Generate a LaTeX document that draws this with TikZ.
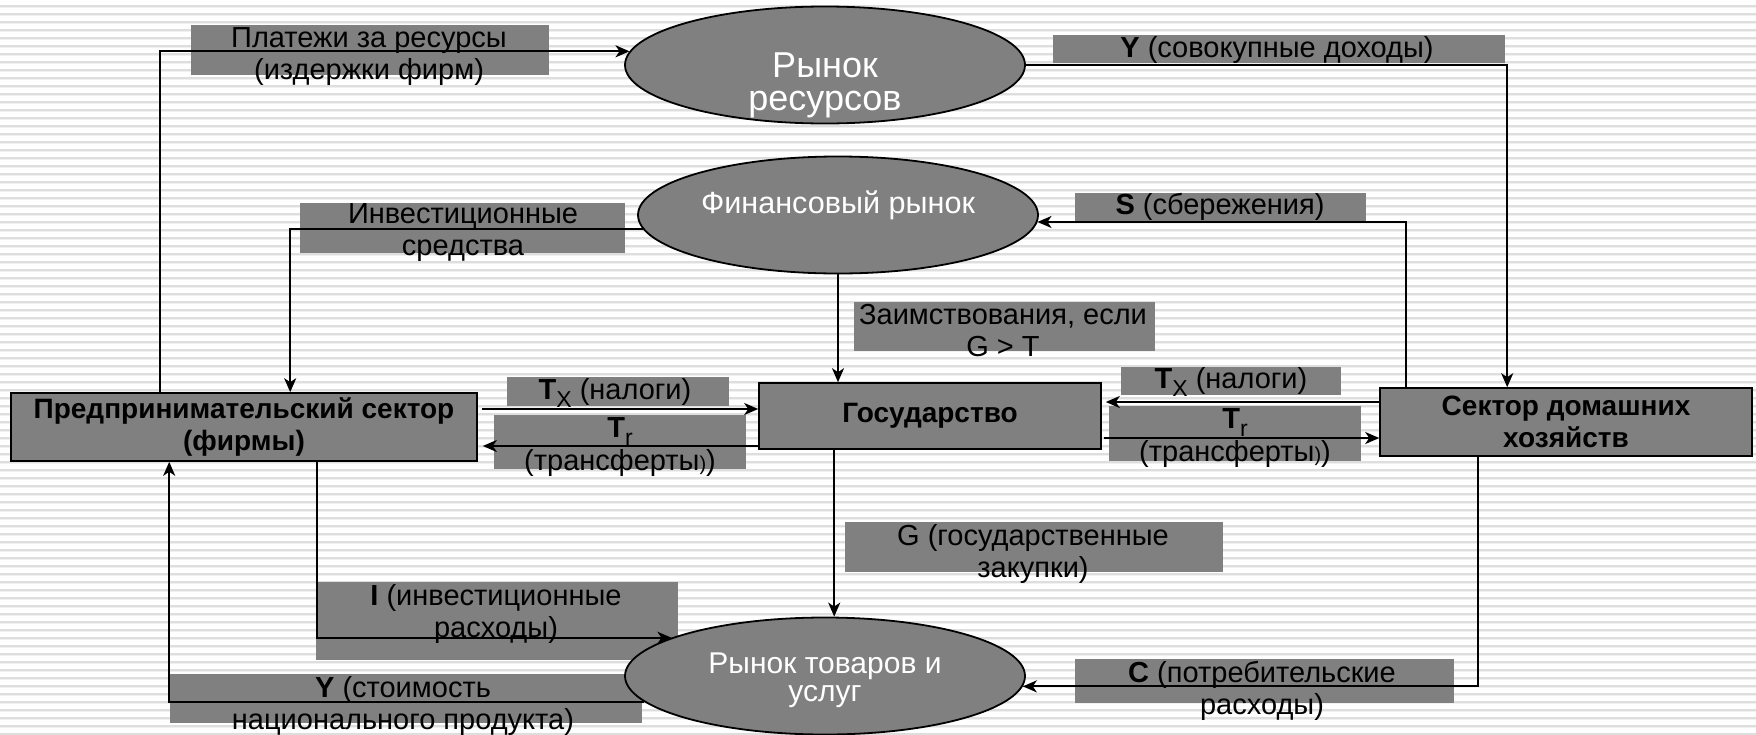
\documentclass[tikz,border=0pt]{standalone}
\usepackage{fontspec}
\setmainfont{Liberation Sans}
\usetikzlibrary{arrows.meta,calc,shapes.geometric}
\definecolor{boxgray}{RGB}{128,128,128}
\definecolor{stripeA}{RGB}{222,222,222}
\definecolor{stripeB}{RGB}{240,240,240}
\newcommand\mysub[1]{\raisebox{-0.28em}{\fontsize{11.5}{11.5}\selectfont #1}}
\newcommand\smallparen{{\fontsize{10}{10}\selectfont )}}
\tikzset{
  lab/.style={fill=boxgray},
  ltext/.style={font=\fontsize{14.5}{16}\selectfont, align=center, inner sep=0pt, text=black},
  blk/.style={draw=black, line width=0.8pt, fill=boxgray, rectangle, inner sep=0pt, align=center, font=\bfseries\fontsize{14}{16}\selectfont},
  ell/.style={draw=black, line width=0.9pt, fill=boxgray, ellipse, inner sep=0pt, minimum width=200pt, minimum height=58.5pt},
  etext/.style={text=white, align=center, inner sep=0pt},
  arr/.style={line width=1pt, -{Stealth[length=7pt,width=6pt,inset=2pt]}}
}
\begin{document}
\begin{tikzpicture}[x=0.5pt,y=-0.5pt]
\useasboundingbox (0,0) rectangle (1756,734);
\fill[white] (0,0) rectangle (1756,734);
\foreach \y in {5,13,...,733} {
  \fill[stripeA] (0,\y) rectangle (1756,\y+1.5);
  \fill[stripeB] (0,\y+1.5) rectangle (1756,\y+3);
}
% label backgrounds
\fill[lab] (191,25) rectangle (549,75);
\fill[lab] (1053,35) rectangle (1505,63);
\fill[lab] (300,203) rectangle (625,253);
\fill[lab] (1075,193) rectangle (1366,221);
\fill[lab] (854,302) rectangle (1155,351);
\fill[lab] (507,377) rectangle (729,406);
\fill[lab] (494,415) rectangle (746,469);
\fill[lab] (1121,367) rectangle (1341,395);
\fill[lab] (1109,406) rectangle (1361,461);
\fill[lab] (845,522) rectangle (1223,572);
\fill[lab] (316,582) rectangle (678,660);
\fill[lab] (170,674) rectangle (642,723);
\fill[lab] (1075,659) rectangle (1454,703);
% main nodes
\node[ell] (RR) at (825,65) {};
\node[ell] (FR) at (838,215) {};
\node[ell] (GM) at (825,676) {};
\node[blk, minimum width=233pt, minimum height=34pt] (F) at (244,427) {Предпринимательский сектор\\(фирмы)};
\node[blk, minimum width=171pt, minimum height=33pt] (G) at (930,416) {Государство};
\node[blk, minimum width=186pt, minimum height=34pt] (H) at (1566,422) {Сектор домашних\\хозяйств};
\node[etext, font=\fontsize{18}{16.5}\selectfont] (RRt) at (825,85) {Рынок\\ресурсов};
\node[etext, font=\fontsize{15.3}{16}\selectfont] (FRt) at (838,205) {Финансовый рынок};
\node[etext, font=\fontsize{15}{14}\selectfont] (GMt) at (825,680) {Рынок товаров и\\услуг};
% connectors
\coordinate (payb) at ($(F.north west)+(150,0)$);
\draw[arr] (payb) |- (RR.176.5);
\coordinate (yh) at ($(H.north west)+(128,0)$);
\draw[arr] (RR.east) -| (yh);
\coordinate (ifx) at ($(F.north west)+(280,0)$);
\draw[arr] (FR.184.8) -| (ifx);
\coordinate (sh) at ($(H.north west)+(27,0)$);
\draw[arr] (sh) |- (FR.-2);
\draw[arr] (FR.south) -- (FR.south |- G.north);
\draw[arr] ($(F.east)+(4,-18)$) -- ($(G.west)+(0,-7)$);
\draw[arr] ($(G.west)+(0,30)$) -- ($(F.east)+(5,19)$);
\draw[arr] ($(H.west)+(0,-20)$) -- ($(G.east)+(4,-14)$);
\draw[arr] ($(G.east)+(2,22)$) -- ($(H.west)+(0,16)$);
\coordinate (gb) at ($(G.south west)+(76,0)$);
\draw[arr] (gb) -- (gb |- GM.north);
\coordinate (ib) at ($(F.south west)+(307,0)$);
\draw[arr] (ib) |- (GM.166.9);
\coordinate (yb) at ($(F.south west)+(159,0)$);
\draw[arr] (GM.188.9) -| (yb);
\coordinate (cb) at ($(H.south west)+(99,0)$);
\draw[arr] (cb) |- (GM.-3.7);
% label texts
\node[ltext] (tPay) at (369,57) {Платежи за ресурсы\\(издержки фирм)};
\node[ltext] (tY) at (1277,50) {\textbf{Y} (совокупные доходы)};
\node[ltext] (tInv) at (463,233) {Инвестиционные\\средства};
\node[ltext] (tS) at (1220,207) {\textbf{S} (сбережения)};
\node[ltext] (tB) at (1003,331) {Заимствования, если\\G > T};
\node[ltext] (tTxa) at (615,393) {\textbf{T}\mysub{X} (налоги)};
\node[ltext, font=\fontsize{14.5}{16.5}\selectfont] (tTra) at (620,447) {\textbf{T}\mysub{r}\\(трансферты\smallparen)};
\node[ltext] (tTxb) at (1231,382) {\textbf{T}\mysub{X} (налоги)};
\node[ltext, font=\fontsize{14.5}{16.5}\selectfont] (tTrb) at (1235,438) {\textbf{T}\mysub{r}\\(трансферты\smallparen)};
\node[ltext] (tG) at (1033,554) {G (государственные\\закупки)};
\node[ltext] (tI) at (496,614) {\textbf{I} (инвестиционные\\расходы)};
\node[ltext] (tYs) at (403,706) {\textbf{Y} (стоимость\\национального продукта)};
\node[ltext] (tC) at (1262,691) {\textbf{C} (потребительские\\расходы)};
\end{tikzpicture}
\end{document}
